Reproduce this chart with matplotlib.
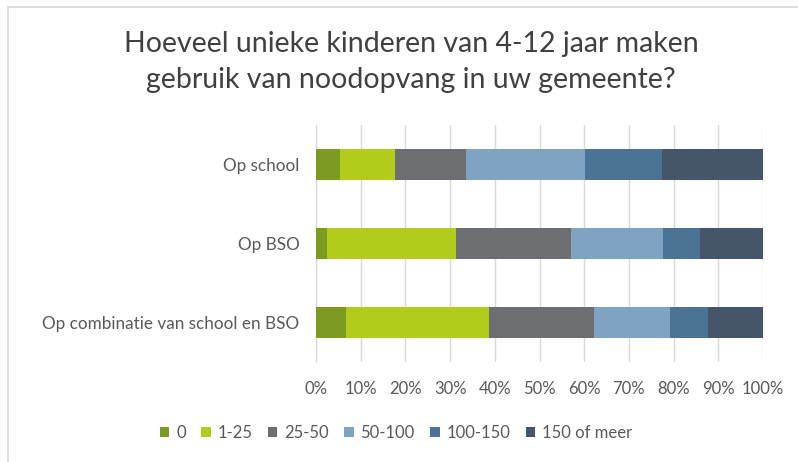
import matplotlib.pyplot as plt
from matplotlib.patches import Rectangle
import numpy as np

# data (percent of gemeenten per row)
categories = ["Op school", "Op BSO", "Op combinatie van school en BSO"]
series_names = ["0", "1-25", "25-50", "50-100", "100-150", "150 of meer"]
v_0 = [5.4, 2.5, 6.7]
v_1_25 = [12.2, 28.9, 32.1]
v_25_50 = [15.9, 25.6, 23.3]
v_50_100 = [26.7, 20.6, 17.2]
v_100_150 = [17.3, 8.4, 8.5]
v_150_plus = [22.5, 14.0, 12.2]
colors = ["#7d9a23", "#b3cc1c", "#6d6e72", "#7ea3c3", "#4b7395", "#45556a"]

series = [v_0, v_1_25, v_25_50, v_50_100, v_100_150, v_150_plus]

plt.rcParams['font.family'] = ['Lato', 'DejaVu Sans']
text_col = "#595959"

fig = plt.figure(figsize=(7.98, 4.62), dpi=100)
ax = fig.add_axes([316 / 798, 1 - 362 / 462, 447 / 798, 237 / 462])

# chart border (cut off at right/bottom in the scan)
fig.patches.append(Rectangle((8 / 798, -0.1), 1.2, 1 - 7 / 462 + 0.1,
                             transform=fig.transFigure, fill=False,
                             edgecolor="#d9d9d9", linewidth=1.2))

y = np.arange(len(categories))
left = np.zeros(len(categories))
for name, vals, c in zip(series_names, series, colors):
    ax.barh(y, vals, left=left, height=0.39, color=c, label=name, zorder=3)
    left += np.array(vals)

ax.set_ylim(len(categories) - 0.5, -0.5)
ax.set_xlim(0, 100)
ax.set_xticks(np.arange(0, 101, 10))
ax.set_xticklabels([f"{t}%" for t in range(0, 101, 10)], fontsize=12, color=text_col)
ax.set_yticks(y)
ax.set_yticklabels(categories, fontsize=12.3, color=text_col)
ax.tick_params(length=0)
ax.tick_params(axis='x', pad=14)
ax.tick_params(axis='y', pad=12)
ax.grid(axis='x', color="#d9d9d9", linewidth=1, zorder=0)
for s in ax.spines.values():
    s.set_visible(False)
ax.spines['left'].set_visible(True)
ax.spines['left'].set_color("#d9d9d9")

fig.text(411 / 798, 1 - 62 / 462,
         "Hoeveel unieke kinderen van 4-12 jaar maken\ngebruik van noodopvang in uw gemeente?",
         ha='center', va='center', fontsize=20.5, color="#404040", linespacing=1.45)

fig.legend(loc='center', bbox_to_anchor=(396 / 798, 1 - 433 / 462), ncol=6,
           frameon=False, fontsize=12, handlelength=0.55, handleheight=0.55,
           handletextpad=0.4, columnspacing=0.95, labelcolor=text_col)

fig.savefig("out.png", dpi=100)
